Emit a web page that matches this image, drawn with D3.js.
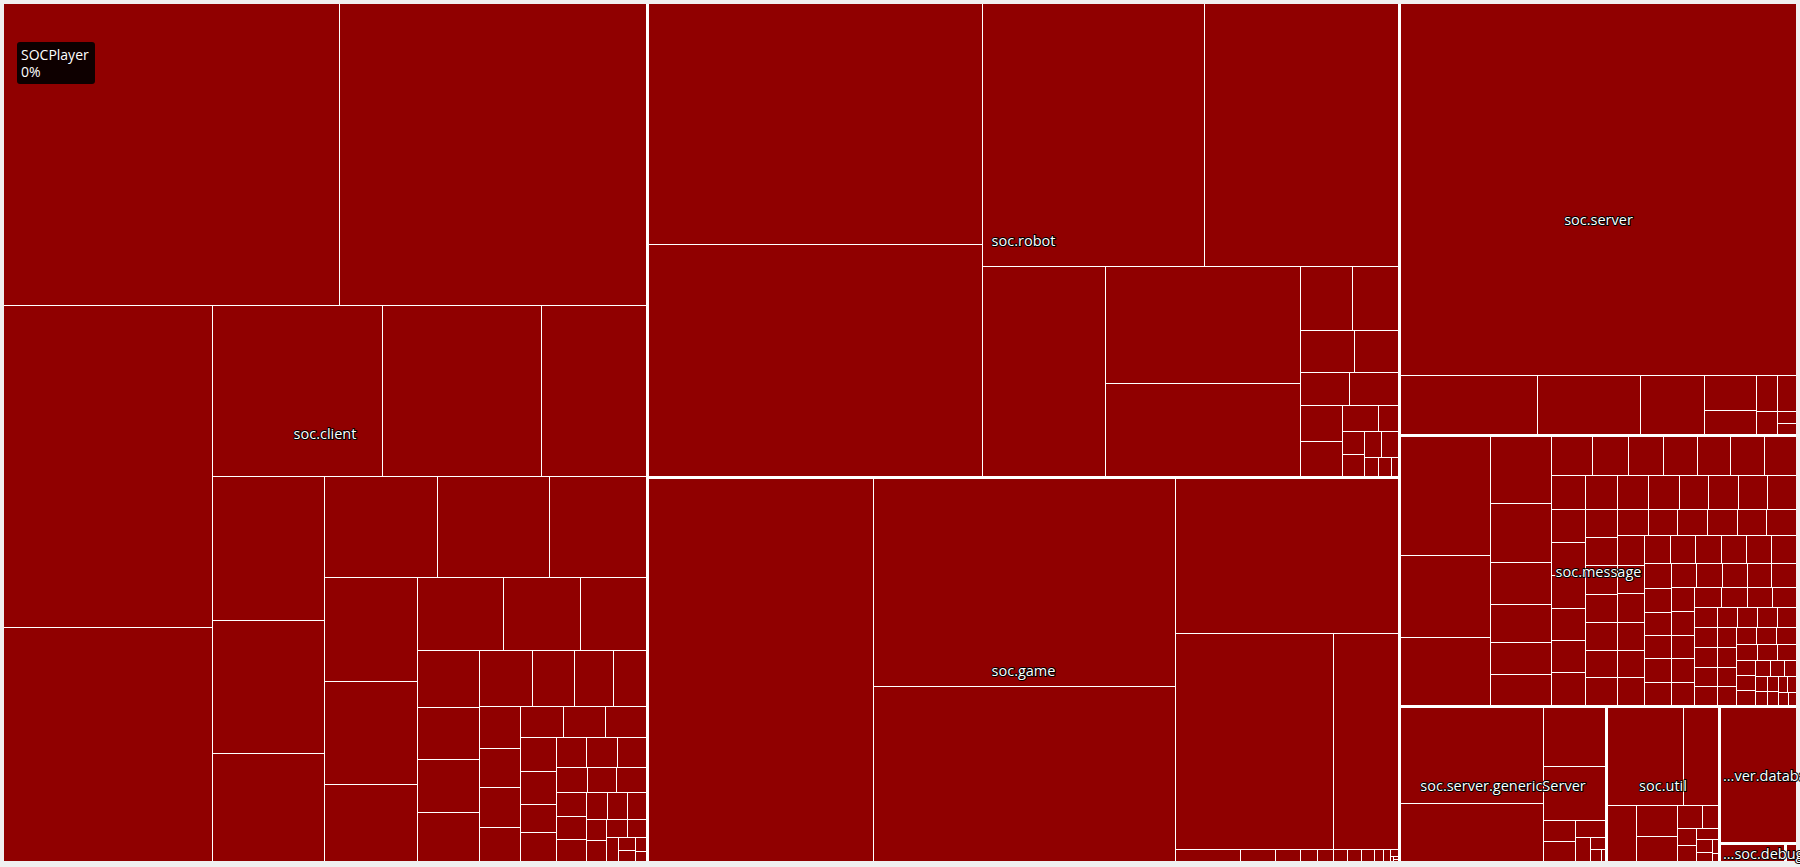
<!DOCTYPE html>
<html>
<head>
<meta charset="utf-8">
<script src="https://cdn.jsdelivr.net/npm/d3@7"></script>
<style>
  html, body { margin: 0; padding: 0; background: #f0f0f0; overflow: hidden; }
  svg { display: block; }
  .pkg-label {
    font-family: "Open Sans", sans-serif;
    font-size: 14.5px;
    fill: #fff;
    stroke: #000;
    stroke-width: 2;
    stroke-linejoin: round;
    paint-order: stroke;
  }
  .tip text { font-family: "Open Sans", sans-serif; font-size: 14px; fill: #fff; }
</style>
</head>
<body>
<div id="chart"></div>
<script>
// packages (top level), shown labels
var packages = ["soc.client", "soc.robot", "soc.game", "soc.server", "soc.message",
  "soc.server.genericServer", "soc.util", "soc.server.database", "soc.debug", "soc.other"]
var labels = ["soc.client", "soc.robot", "soc.game", "soc.server", "soc.message",
  "soc.server.genericServer", "soc.util", "...ver.database", "...soc.debug", ""]

// class sizes per package, in source order
// a nested array is one source file holding several classes
var clientSizes = [1002, 913, 664, 482, 285, 268, 175, 158, 146, 119, 113, 112, 97, 96, 95, 71,
  61, 55, 47, 35, 32, 32, 30, 29.5, 23, [22, 18], 17, 16, 16, 14, 12.9, 12.9, 12.5, 11.7, 11.5,
  10, 10, 9, 9, 8.6, 7.6, 7.4, 7.2, 7.0, 6.8, 6.5, 5.4, 5.3, 4.8, 4.4, 4.2, 3.8, 3.4, 2.8,
  2.2, 1.8, 1.4, 1.0]
var robotSizes = [795, 768, 575, 505, 255, [225, 180], 33, 29, 22, 18, 16, 16, 15, 14.6, 9.5,
  5.1, 5.1, 4.8, 4.5, 4.3, 2.6, 2.4, 1.4]
var gameSizes = [852, 621, 521, 340, [339, 138], 7.8, 4.1, 3.0, 2.0, 1.9, 1.7, 1.6, 1.6, 1.1,
  0.77, 0.55, 0.16, 0.16, 0.12]
var serverSizes = [1457, 81, 61, 38, [18, 12.5], 7.6, 6.8, 4.8, 2.3, 2.1]
var messageSizes = [106, 73, 60, 40, 36, 25.6, 23, [19, 18.7], 16, 13.7, 13.7, 12.9, 12.9, 12.9,
  12.5, 11.6, 11.2, 11.2, 11.2, 10.9, 10.9, 10.9, 10.8, 10.4, 10.2, 9.9, 9.9, 9.7, 9.7, 9.0,
  9.0, 9.0, 9.0, 9.0, 8.7, 8.7, 8.0, 7.8, 7.8, 7.8, 7.8, 7.8, 7.7, 7.6, 7.5, 7.4, 7.3, 7.2,
  7.1, 7.0, 7.0, 6.9, 6.8, 6.7, 6.6, 6.4, 6.3, 6.2, 6.2, 6.1, 6.0, 6.0, 5.9, 5.8, 5.8, 5.7,
  5.6, 5.6, 5.5, 5.4, 5.4, 5.3, 5.0, 4.8, 4.7, 4.6, 4.5, 4.4, 4.2, 4.0, 4.0, 3.9, 3.8, 3.7,
  3.6, 3.5, 3.5, 3.4, 3.3, 3.3, 3.2, 3.1, 3.0, 2.9, 2.8, 2.7, 2.5, 2.3, 2.0, 1.8, 1.7, 1.6,
  1.5, 1.4, 1.3, 1.2, 1.1]
var genericServerSizes = [[138, 84], 36.6, 33.5, 6.7, 6.4, 5.4, 3.6, 1.7, 1.4, 0.5]
var utilSizes = [[76, 34], 16.3, 12.8, 10.4, 5.6, 3.7, 3.2, 2.9, 2.5, 2.1, 1.4, 0.8, 0.5]
var databaseSizes = [106]
var debugSizes = [12.2]
var otherSizes = [2.1]

var sizes = [clientSizes, robotSizes, gameSizes, serverSizes, messageSizes,
  genericServerSizes, utilSizes, databaseSizes, debugSizes, otherSizes]

// hovered class (tooltip)
var hoverName = "SOCPlayer"
var hoverCoverage = "0%"

var width = 1800, height = 867, margin = {top: 4, right: 4, bottom: 6, left: 4}
var w = width - margin.left - margin.right
var h = height - margin.top - margin.bottom

function toNode(v, name) {
  if (Array.isArray(v)) {
    return {name: name, children: v.map(function(c, j) { return toNode(c, name + "$" + j) })}
  }
  return {name: name, size: v, coverage: 0}
}

var data = {
  name: "root",
  children: packages.map(function(p, i) {
    var pkg = toNode(sizes[i], p)
    pkg.label = labels[i]
    return pkg
  })
}
// first class of soc.client is the hovered one
data.children[0].children[0].name = hoverName

var root = d3.hierarchy(data)
  .sum(function(d) { return d.size || 0 })

d3.treemap()
  .tile(d3.treemapSquarify.ratio(1))
  .size([w, h])
  .paddingInner(function(n) { return n.depth == 0 ? 3 : 1 })
  .round(true)(root)

var svg = d3.select("#chart").append("svg")
  .attr("width", width)
  .attr("height", height)

var g = svg.append("g")
  .attr("transform", "translate(" + margin.left + "," + margin.top + ")")

g.append("rect")
  .attr("width", w)
  .attr("height", h)
  .attr("fill", "#fff")

var color = d3.scaleLinear().domain([0, 1]).range(["#900000", "#009000"])

g.selectAll("rect.leaf")
  .data(root.leaves())
  .enter().append("rect")
  .attr("class", "leaf")
  .attr("x", function(d) { return d.x0 })
  .attr("y", function(d) { return d.y0 })
  .attr("width", function(d) { return d.x1 - d.x0 })
  .attr("height", function(d) { return d.y1 - d.y0 })
  .attr("fill", function(d) { return color(d.data.coverage) })

// package labels
g.selectAll("text.pkg-label")
  .data(root.children.filter(function(d) { return d.data.label }))
  .enter().append("text")
  .attr("class", "pkg-label")
  .attr("dy", "0.35em")
  .text(function(d) { return d.data.label })
  .each(function(d) {
    var t = d3.select(this)
    var tw = this.getComputedTextLength()
    if (tw > d.x1 - d.x0) {
      t.attr("x", d.x0 + 2).attr("text-anchor", "start")
    } else {
      t.attr("x", (d.x0 + d.x1) / 2).attr("text-anchor", "middle")
    }
    t.attr("y", (d.y0 + d.y1) / 2 + 1)
  })

// tooltip for hovered class
var hovered = root.leaves().filter(function(d) { return d.data.name == hoverName })[0]
var tip = g.append("g").attr("class", "tip")
  .attr("transform", "translate(" + (hovered.x0 + 13) + "," + (hovered.y0 + 38) + ")")
tip.append("rect")
  .attr("width", 78)
  .attr("height", 42)
  .attr("rx", 3)
  .attr("fill", "rgba(0,0,0,0.9)")
tip.append("text").attr("x", 4).attr("y", 18).text(hoverName)
tip.append("text").attr("x", 4).attr("y", 35).text(hoverCoverage)
</script>
</body>
</html>
